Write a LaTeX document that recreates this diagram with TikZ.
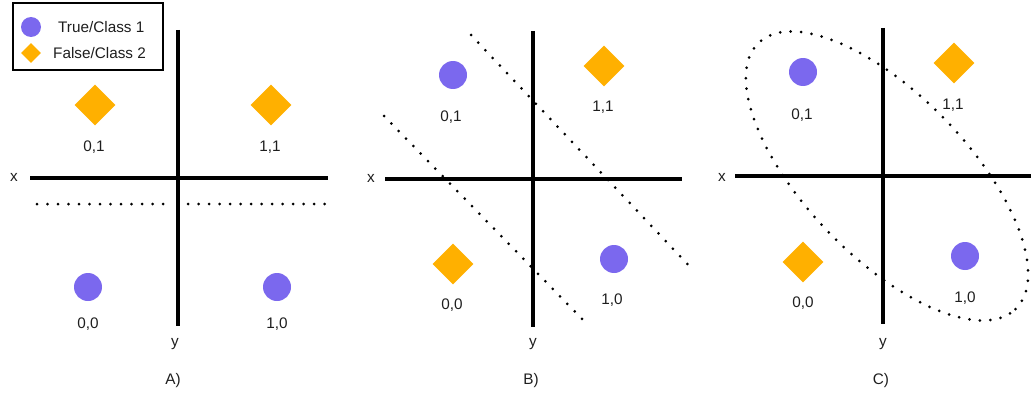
\documentclass[tikz,border=0pt]{standalone}
\usepackage{fontspec}
\setmainfont{Liberation Sans}
\usetikzlibrary{shapes.geometric}
\definecolor{cpurple}{RGB}{123,104,238}
\definecolor{corange}{RGB}{255,176,0}
\definecolor{ctext}{RGB}{30,30,30}
\begin{document}
\begin{tikzpicture}[x=1pt,y=-1pt,
  every node/.style={font=\fontsize{15.3}{18}\selectfont, text=ctext},
  classone/.style={circle,fill=cpurple,draw=none,minimum size=28pt,inner sep=0pt},
  classtwo/.style={diamond,fill=corange,draw=none,minimum size=41pt,aspect=1,inner sep=0pt},
  axisline/.style={line width=4pt},
  sepline/.style={line width=3pt,line cap=round,dash pattern=on 0pt off 10.5pt},
  lbl/.style={inner sep=0pt}]
\useasboundingbox (0,0) rectangle (1033,396);
% legend
\node[draw=black,line width=1.3pt,minimum width=150pt,minimum height=67pt,inner sep=0pt] (legend) at (88,36.5) {};
\node[classone,minimum size=20pt] (legc) at (31,27) {};
\node[lbl,anchor=west] (legct) at (58,27) {True/Class 1};
\node[classtwo,minimum size=20pt] (legd) at (31,53) {};
\node[lbl,anchor=west] (legdt) at (53,53) {False/Class 2};

% ---------- Panel A ----------
\coordinate (Axl) at (30,178);
\coordinate (Axr) at (328,178);
\coordinate (Ayt) at (178,30);
\coordinate (Ayb) at (178,326);
\draw[axisline] (Axl) -- (Axr);
\draw[axisline] (Ayt) -- (Ayb);
\coordinate (Ad1) at (37,204);
\coordinate (Ad2) at (170,204);
\coordinate (Ad3) at (188,204);
\coordinate (Ad4) at (331,204);
\draw[sepline] (Ad1) -- (Ad2);
\draw[sepline] (Ad3) -- (Ad4);
\node[classtwo] (A01) at (95,105) {};
\node[lbl] (A01t) at (94,147) {0,1};
\node[classtwo] (A11) at (271,105) {};
\node[lbl] (A11t) at (270,147) {1,1};
\node[classone] (A00) at (88,287) {};
\node[lbl] (A00t) at (88,324) {0,0};
\node[classone] (A10) at (277,287) {};
\node[lbl] (A10t) at (277,324) {1,0};
\node[lbl] (Ax) at (14,177) {x};
\node[lbl] (Ay) at (175,344) {y};
\node[lbl] (Alab) at (173,381) {A)};

% ---------- Panel B ----------
\coordinate (Bxl) at (385,179);
\coordinate (Bxr) at (682,179);
\coordinate (Byt) at (533,31);
\coordinate (Byb) at (533,327);
\draw[axisline] (Bxl) -- (Bxr);
\draw[axisline] (Byt) -- (Byb);
\coordinate (Bs1a) at (471,35);
\coordinate (Bs1b) at (694,271);
\coordinate (Bs2a) at (384,116);
\coordinate (Bs2b) at (587,324);
\draw[sepline] (Bs1a) -- (Bs1b);
\draw[sepline] (Bs2a) -- (Bs2b);
\node[classone] (B01) at (453,75) {};
\node[lbl] (B01t) at (451,117) {0,1};
\node[classtwo] (B11) at (604,66) {};
\node[lbl] (B11t) at (603,107) {1,1};
\node[classtwo] (B00) at (453,264) {};
\node[lbl] (B00t) at (452,305) {0,0};
\node[classone] (B10) at (614,259) {};
\node[lbl] (B10t) at (612,300) {1,0};
\node[lbl] (Bx) at (371,178) {x};
\node[lbl] (By) at (533,344) {y};
\node[lbl] (Blab) at (531,381) {B)};

% ---------- Panel C ----------
\coordinate (Cxl) at (735,176);
\coordinate (Cxr) at (1031,176);
\coordinate (Cyt) at (883,28);
\coordinate (Cyb) at (883,324);
\draw[axisline] (Cxl) -- (Cxr);
\draw[axisline] (Cyt) -- (Cyb);
\coordinate (Cc) at (887,176);
\draw[sepline] (Cc) ellipse[x radius=185pt,y radius=81pt,rotate=-46];
\node[classone] (C01) at (803,72) {};
\node[lbl] (C01t) at (802,115) {0,1};
\node[classtwo] (C11) at (954,63) {};
\node[lbl] (C11t) at (953,105) {1,1};
\node[classtwo] (C00) at (803,262) {};
\node[lbl] (C00t) at (803,303) {0,0};
\node[classone] (C10) at (965,256) {};
\node[lbl] (C10t) at (965,298) {1,0};
\node[lbl] (Cx) at (722,177) {x};
\node[lbl] (Cy) at (883,344) {y};
\node[lbl] (Clab) at (881,381) {C)};
\end{tikzpicture}
\end{document}
